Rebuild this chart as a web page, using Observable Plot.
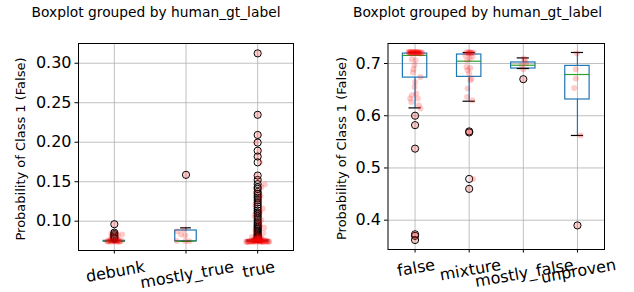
<!DOCTYPE html>
<html>
<head>
<meta charset="utf-8">
<script src="https://cdn.jsdelivr.net/npm/d3@7"></script>
<script src="https://cdn.jsdelivr.net/npm/@observablehq/plot@0.6"></script>
<style>
  html, body { margin: 0; padding: 0; background: #fff; }
  #wrap { position: relative; width: 634px; height: 292px; font-family: "DejaVu Sans", sans-serif; }
  .panel { position: absolute; top: 0; }
</style>
</head>
<body>
<div id="wrap">
  <div class="panel" id="left" style="left:0px"></div>
  <div class="panel" id="right" style="left:317px"></div>
</div>
<script>
// ---------------- Left panel data ----------------
const titleText = "Boxplot grouped by human_gt_label";
const yLabelText = "Probability of Class 1 (False)";

const catsA = ["debunk", "mostly_true", "true"];
const q1A  = [0.0742, 0.0746, 0.0742];
const medA = [0.0745, 0.0747, 0.0745];
const q3A  = [0.0751, 0.0882, 0.0756];
const loA  = [0.0738, 0.0744, 0.0736];
const hiA  = [0.0760, 0.0916, 0.0775];
const yTicksA = [0.10, 0.15, 0.20, 0.25, 0.30];

const outDebunk = [0.0962, 0.0855, 0.0838, 0.0822, 0.0805, 0.0790, 0.0778];
const outMostlyTrue = [0.1587];
const outTrue = [0.3125, 0.2347, 0.2092, 0.1995, 0.1893, 0.1819, 0.1745, 0.1578, 0.1522, 0.1470,
  0.1430, 0.1410, 0.1370, 0.1347, 0.1320, 0.1297, 0.1268, 0.1240, 0.1212, 0.1186, 0.1160,
  0.1135, 0.1112, 0.1094, 0.1068, 0.1043, 0.1015, 0.0987, 0.0966, 0.0946, 0.0930, 0.0916,
  0.0900, 0.0882, 0.0865, 0.0848, 0.0833, 0.0819, 0.0808, 0.0797, 0.0788, 0.0780];

// strip (jittered) points: value and horizontal jitter
const stripDebunkV = [0.0962, 0.0855, 0.0840, 0.0832, 0.0822, 0.0805, 0.0790, 0.0777, 0.0745, 0.0743,
  0.0747, 0.0741, 0.0746, 0.0744, 0.0750, 0.0748, 0.0742, 0.0752, 0.0760, 0.0765,
  0.0744, 0.0746, 0.0743, 0.0747];
const stripDebunkJ = [0.00, 0.02, -0.04, 0.11, 0.05, -0.04, 0.03, -0.04, -0.10, -0.05,
  0.00, 0.04, 0.08, -0.08, 0.02, -0.02, 0.06, 0.10, -0.07, 0.05,
  -0.03, 0.01, 0.07, -0.09];
const stripMostlyTrueV = [0.1587, 0.0891, 0.0873, 0.0832, 0.0819, 0.0750, 0.0747, 0.0746];
const stripMostlyTrueJ = [0.00, -0.03, -0.12, -0.07, -0.01, -0.13, -0.01, 0.05];
const stripTrueV = [0.3125, 0.2347, 0.2092, 0.1995, 0.1893, 0.1819, 0.1745, 0.1578, 0.1522, 0.1465,
  0.1430, 0.1370, 0.1320, 0.1268, 0.1212, 0.1157, 0.1112, 0.1068, 0.1015, 0.0987, 0.0946, 0.0916,
  0.0882, 0.0850, 0.0819, 0.0800, 0.0790,
  0.0740, 0.0742, 0.0745, 0.0743, 0.0746, 0.0741, 0.0744, 0.0748, 0.0750, 0.0747, 0.0752, 0.0749,
  0.0755, 0.0757, 0.0753, 0.0760, 0.0762, 0.0765, 0.0768, 0.0772, 0.0738, 0.0737, 0.0739, 0.0736,
  0.0776, 0.0780, 0.0785,
  0.0741, 0.0743, 0.0745, 0.0742, 0.0744, 0.0746, 0.0740, 0.0743, 0.0745, 0.0747, 0.0742, 0.0744,
  0.0749, 0.0751, 0.0754, 0.0758, 0.0763, 0.0770, 0.0795, 0.0805, 0.0830];
const stripTrueJ = [0.00, 0.00, 0.01, -0.02, 0.02, 0.00, 0.03, -0.01, 0.02, 0.10,
  0.05, -0.02, 0.04, 0.02, -0.03, 0.07, 0.03, -0.04, 0.05, 0.01, 0.03, 0.09,
  -0.03, 0.08, 0.02, -0.08, 0.04,
  -0.15, -0.10, -0.05, 0.00, 0.05, 0.10, 0.14, -0.12, -0.07, 0.03, 0.08, 0.12,
  -0.09, -0.02, 0.06, -0.05, 0.04, 0.09, -0.03, 0.02, -0.13, 0.07, 0.15, -0.06,
  -0.01, 0.05, -0.04,
  -0.14, -0.11, -0.08, -0.04, -0.01, 0.02, 0.04, 0.07, 0.11, 0.13, 0.16, -0.16,
  -0.06, 0.01, 0.05, -0.02, 0.03, -0.01, 0.00, 0.02, -0.02];

// ---------------- Right panel data ----------------
const catsB = ["false", "mixture", "mostly_false", "unproven"];
const q1B  = [0.6730, 0.6744, 0.6904, 0.6311];
const medB = [0.7155, 0.7044, 0.6967, 0.6789];
const q3B  = [0.7190, 0.7172, 0.7020, 0.6954];
const loB  = [0.6150, 0.6278, 0.6904, 0.5622];
const hiB  = [0.7215, 0.7211, 0.7107, 0.7211];
const yTicksB = [0.4, 0.5, 0.6, 0.7];

const outFalse = [0.600, 0.582, 0.537, 0.373, 0.370, 0.362];
const outMixture = [0.570, 0.568, 0.479, 0.460];
const outMostlyFalse = [0.670];
const outUnproven = [0.390];

const stripFalseV = [0.7225, 0.7220, 0.7218, 0.7215, 0.7212, 0.7210, 0.7208, 0.7205, 0.7200, 0.7195,
  0.7190, 0.7185, 0.7222, 0.7213, 0.7203,
  0.7221, 0.7217, 0.7214, 0.7211, 0.7209, 0.7206, 0.7219, 0.7216, 0.7212, 0.7207,
  0.7077, 0.7063, 0.6967, 0.6890, 0.6828, 0.6744, 0.6648, 0.6550, 0.6426, 0.6393, 0.6330, 0.6330,
  0.6265, 0.6200, 0.6140, 0.600, 0.582, 0.537, 0.373, 0.370, 0.362];
const stripFalseJ = [-0.12, -0.08, -0.04, 0.00, 0.04, 0.08, 0.12, -0.10, -0.02, 0.06,
  0.10, -0.06, 0.02, -0.09, 0.13,
  -0.05, 0.03, -0.01, 0.06, -0.07, 0.01, 0.09, -0.11, 0.05, -0.03,
  -0.06, 0.01, -0.01, -0.03, -0.04, 0.10, 0.00, -0.01, 0.02, -0.06, -0.09, 0.05,
  -0.07, 0.07, 0.10, 0.00, 0.00, 0.00, -0.02, 0.01, 0.00];
const stripMixtureV = [0.7191, 0.7211, 0.7159, 0.7127, 0.7063, 0.7096, 0.6935, 0.6916, 0.6872,
  0.6809, 0.6713, 0.6680, 0.6521, 0.6360, 0.6297, 0.570, 0.568, 0.479, 0.460,
  0.7215, 0.7208, 0.7218, 0.7203, 0.7212, 0.7199];
const stripMixtureJ = [-0.01, 0.02, -0.07, 0.06, -0.04, 0.01, -0.05, 0.02, -0.03,
  0.00, 0.04, 0.02, -0.03, -0.04, 0.06, 0.00, 0.00, 0.07, 0.00,
  -0.05, 0.05, 0.00, -0.02, 0.08, 0.03];
const stripMostlyFalseV = [0.7096, 0.7063, 0.7000, 0.6967, 0.6890, 0.6700];
const stripMostlyFalseJ = [0.01, 0.03, 0.05, -0.03, 0.00, 0.00];
const stripUnprovenV = [0.7191, 0.6890, 0.6713, 0.6533, 0.5622, 0.390];
const stripUnprovenJ = [-0.01, -0.03, -0.03, -0.06, 0.06, 0.00];

// ---------------- drawing ----------------
const tickFont = 16;
const measureCtx = document.createElement("canvas").getContext("2d");
function textWidth(s, size) {
  measureCtx.font = size + 'px "DejaVu Sans"';
  return measureCtx.measureText(s).width;
}

function buildPanel(cfg) {
  const n = cfg.cats.length;
  const pos = cfg.cats.map((c, i) => i + 1);
  const hw = cfg.boxW / 2;
  const boxes = cfg.cats.map((c, i) => ({pos: i + 1, q1: cfg.q1[i], med: cfg.med[i], q3: cfg.q3[i], lo: cfg.lo[i], hi: cfg.hi[i]}));
  const outs = cfg.outliers.flatMap((arr, i) => arr.map(v => ({pos: i + 1, v})));
  const strip = cfg.stripV.flatMap((arr, i) => arr.map((v, k) => ({pos: i + 1 + cfg.stripJ[i][k], v})));
  const blue = "#1f77b4";
  const labelMarks = cfg.cats.map((c, i) => {
    const w = textWidth(c, tickFont);
    return Plot.text([c], {
      x: [i + 1], frameAnchor: "bottom", dy: cfg.labelTop + w * 0.0868,
      rotate: -10, textAnchor: "middle", lineAnchor: "top", fontSize: tickFont, fill: "black"
    });
  });
  return Plot.plot({
    width: 317,
    height: 292,
    marginLeft: cfg.marginLeft,
    marginRight: cfg.marginRight,
    marginTop: 43,
    marginBottom: cfg.marginBottom,
    style: {fontFamily: '"DejaVu Sans", sans-serif', background: "white", overflow: "visible"},
    x: {type: "linear", domain: [0.5, n + 0.5]},
    y: {type: "linear", domain: cfg.yDomain},
    marks: [
      Plot.gridY(cfg.yTicks, {stroke: "#b0b0b0", strokeOpacity: 1, strokeWidth: 0.8}),
      Plot.gridX(pos, {stroke: "#b0b0b0", strokeOpacity: 1, strokeWidth: 0.8}),
      Plot.ruleX(boxes, {x: "pos", y1: "lo", y2: "q1", stroke: blue, strokeWidth: 1.2}),
      Plot.ruleX(boxes, {x: "pos", y1: "q3", y2: "hi", stroke: blue, strokeWidth: 1.2}),
      Plot.rect(boxes, {x1: d => d.pos - hw, x2: d => d.pos + hw, y1: "q1", y2: "q3", fill: "none", stroke: blue, strokeWidth: 1.2}),
      Plot.ruleY(boxes, {y: "lo", x1: d => d.pos - hw / 2, x2: d => d.pos + hw / 2, stroke: "black", strokeWidth: 1.2}),
      Plot.ruleY(boxes, {y: "hi", x1: d => d.pos - hw / 2, x2: d => d.pos + hw / 2, stroke: "black", strokeWidth: 1.2}),
      Plot.ruleY(boxes, {y: "med", x1: d => d.pos - hw, x2: d => d.pos + hw, stroke: "#2ca02c", strokeWidth: 1.2}),
      Plot.dot(outs, {x: "pos", y: "v", r: 3.6, stroke: "black", fill: "none", strokeWidth: 1}),
      Plot.dot(strip, {x: "pos", y: "v", r: 3, fill: "red", fillOpacity: 0.2, stroke: "none"}),
      Plot.frame({stroke: "black", strokeWidth: 1}),
      Plot.axisY(cfg.yTicks, {tickSize: 3.5, tickPadding: 3.5, tickFormat: cfg.fmt, fontSize: tickFont, label: null, fill: "black"}),
      Plot.axisX(pos, {tickSize: 3.5, tickFormat: () => "", label: null}),
      ...labelMarks,
      Plot.text([titleText], {frameAnchor: "top", dx: cfg.titleDx, dy: -30.7, lineAnchor: "middle", fontSize: 13.8, fill: "black"}),
      Plot.text([yLabelText], {frameAnchor: "left", dx: cfg.ylabDx, dy: 2, rotate: -90, textAnchor: "middle", lineAnchor: "middle", fontSize: 13, fill: "black"})
    ]
  });
}

const left = buildPanel({
  cats: catsA, q1: q1A, med: medA, q3: q3A, lo: loA, hi: hiA,
  outliers: [outDebunk, outMostlyTrue, outTrue],
  stripV: [stripDebunkV, stripMostlyTrueV, stripTrueV],
  stripJ: [stripDebunkJ, stripMostlyTrueJ, stripTrueJ],
  yDomain: [0.0629, 0.3250], yTicks: yTicksA, fmt: d3.format(".2f"),
  marginLeft: 78, marginRight: 24, marginBottom: 42, boxW: 0.3, labelTop: 10,
  titleDx: -30, ylabDx: -57.3
});
const right = buildPanel({
  cats: catsB, q1: q1B, med: medB, q3: q3B, lo: loB, hi: hiB,
  outliers: [outFalse, outMixture, outMostlyFalse, outUnproven],
  stripV: [stripFalseV, stripMixtureV, stripMostlyFalseV, stripUnprovenV],
  stripJ: [stripFalseJ, stripMixtureJ, stripMostlyFalseJ, stripUnprovenJ],
  yDomain: [0.3439, 0.7383], yTicks: yTicksB, fmt: d3.format(".1f"),
  marginLeft: 70.5, marginRight: 30, marginBottom: 43, boxW: 0.45, labelTop: 9,
  titleDx: -18.75, ylabDx: -45.8
});
document.getElementById("left").appendChild(left);
document.getElementById("right").appendChild(right);
</script>
</body>
</html>
